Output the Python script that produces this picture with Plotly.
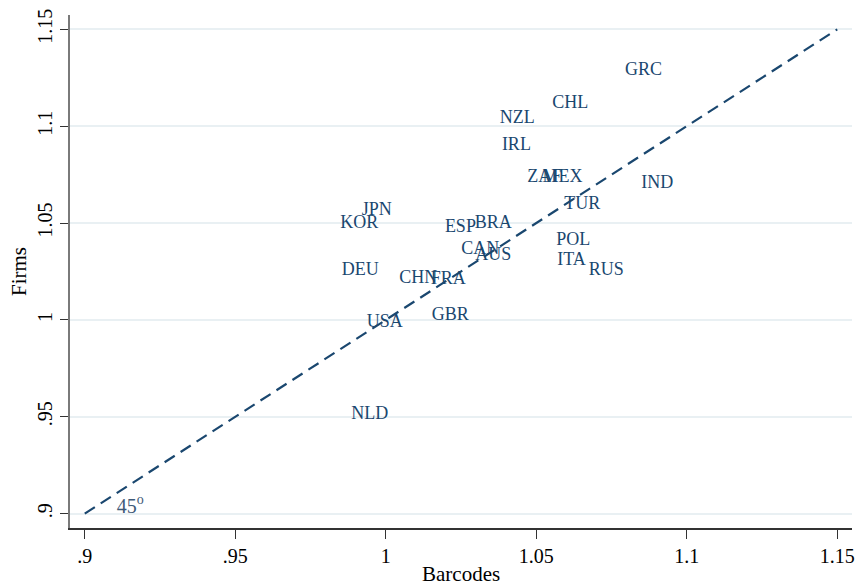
import plotly.graph_objects as go

# Country-level ratios: barcodes (x) versus firms (y)
countries = ["GRC", "CHL", "NZL", "IRL", "ZAF", "MEX", "IND", "TUR", "JPN", "KOR",
             "ESP", "BRA", "POL", "CAN", "AUS", "ITA", "RUS", "DEU", "CHN", "FRA",
             "GBR", "USA", "NLD"]
barcodes = [1.0856, 1.0613, 1.0437, 1.0434, 1.0527, 1.0587, 1.0902, 1.0653, 0.9970, 0.9912,
            1.0248, 1.0357, 1.0623, 1.0314, 1.0357, 1.0617, 1.0733, 0.9915, 1.0108, 1.0208,
            1.0214, 0.9997, 0.9947]
firms = [1.1290, 1.1117, 1.1042, 1.0898, 1.0735, 1.0735, 1.0704, 1.0598, 1.0565, 1.0499,
         1.0477, 1.0500, 1.0410, 1.0366, 1.0332, 1.0306, 1.0255, 1.0255, 1.0213, 1.0211,
         1.0025, 0.9986, 0.9514]

ticks = [0.9, 0.95, 1.0, 1.05, 1.1, 1.15]
tick_text = [".9", ".95", "1", "1.05", "1.1", "1.15"]
diag = [0.9, 1.15]

navy = "#1a476f"
font_family = "Liberation Serif, Times New Roman, serif"

fig = go.Figure()

# 45-degree reference line
fig.add_trace(go.Scatter(
    x=diag, y=diag, mode="lines",
    line=dict(color=navy, width=2.2, dash="12px,7px"),
    hoverinfo="skip", showlegend=False,
))

# Country labels placed at their data points
fig.add_trace(go.Scatter(
    x=barcodes, y=firms, mode="text", text=countries,
    textposition="middle center",
    textfont=dict(family=font_family, size=18, color=navy),
    showlegend=False,
))

# Label for the reference line
fig.add_trace(go.Scatter(
    x=[0.9151], y=[0.9030], mode="text", text=["45<sup>o</sup>"],
    textposition="middle center",
    textfont=dict(family=font_family, size=20, color="#3e5a78"),
    showlegend=False, hoverinfo="skip",
))

fig.update_layout(
    width=856, height=586,
    margin=dict(l=70, r=4, t=15, b=58),
    paper_bgcolor="white", plot_bgcolor="white",
    font=dict(family=font_family, color="black"),
    showlegend=False,
)

# x-axis title, placed just below the tick labels
fig.add_annotation(
    text="Barcodes", xref="paper", yref="paper", x=0.5, y=0,
    xanchor="center", yanchor="middle", yshift=-46, showarrow=False,
    font=dict(family=font_family, size=21, color="black"),
)

fig.update_xaxes(
    range=[0.8951, 1.1549],
    automargin=False,
    tickvals=ticks, ticktext=tick_text,
    tickfont=dict(size=20, color="black"),
    ticks="outside", ticklen=9, tickwidth=1, tickcolor="#333333",
    ticklabelstandoff=0,
    showline=True, linecolor="#333333", linewidth=1.5,
    showgrid=False, zeroline=False,
)

fig.update_yaxes(
    range=[0.8926, 1.1574],
    automargin=False,
    tickvals=ticks, ticktext=tick_text,
    tickangle=-90,
    tickfont=dict(size=20, color="black"),
    ticks="outside", ticklen=8, tickwidth=1, tickcolor="#333333",
    showline=True, linecolor="#7a7a7a", linewidth=2,
    showgrid=True, gridcolor="#e9f0f3", gridwidth=1.5,
    zeroline=False,
    title=dict(text="Firms", font=dict(size=21, color="black"), standoff=2),
)

fig.write_html("out.html")
